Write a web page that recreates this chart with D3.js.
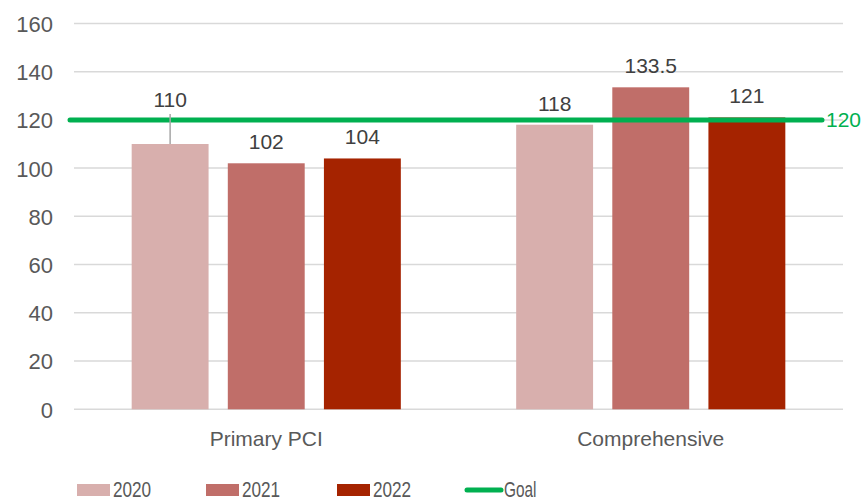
<!DOCTYPE html>
<html>
<head>
<meta charset="utf-8">
<script src="https://cdn.jsdelivr.net/npm/d3@7"></script>
<style>
  body { margin: 0; background: #fff; }
  svg { display: block; }
</style>
</head>
<body>
<svg id="chart" width="868" height="501"></svg>
<script>
// chart data
var categories = ["Primary PCI", "Comprehensive"];
var years = ["2020", "2021", "2022"];
var values2020 = [110, 118];
var values2021 = [102, 133.5];
var values2022 = [104, 121];
var goal = 120;
var yTicks = [0, 20, 40, 60, 80, 100, 120, 140, 160];
var colors = ["#d8afad", "#c06e69", "#a52300"];

var series = [values2020, values2021, values2022];

var svg = d3.select("#chart");

var plotLeft = 74, plotRight = 843, plotTop = 23.4, plotBottom = 409.3;
var font = "'Liberation Sans', Arial, sans-serif";

var y = d3.scaleLinear().domain([0, 160]).range([plotBottom, plotTop]);
var x0 = d3.scaleBand().domain(categories).range([plotLeft, plotRight]).padding(0);
var x1 = d3.scaleBand().domain(years).range([0, x0.bandwidth()])
  .paddingInner(0.2).paddingOuter(0.6);

// gridlines
svg.append("g")
  .selectAll("line")
  .data(yTicks)
  .enter().append("line")
    .attr("x1", plotLeft)
    .attr("x2", plotRight)
    .attr("y1", function(d) { return y(d); })
    .attr("y2", function(d) { return y(d); })
    .attr("stroke", "#d9d9d9")
    .attr("stroke-width", 1.5);

// y axis labels
var yAxis = d3.axisLeft(y).tickValues(yTicks).tickSize(0).tickPadding(0);
var ya = svg.append("g").attr("transform", "translate(53,0)").call(yAxis);
ya.select(".domain").remove();
ya.selectAll("text")
  .attr("font-family", font)
  .attr("font-size", 22)
  .attr("fill", "#595959")
  .attr("dy", "0.36em");

// bars
var groups = svg.append("g")
  .selectAll("g")
  .data(categories)
  .enter().append("g")
    .attr("transform", function(d) { return "translate(" + x0(d) + ",0)"; });

var bars = groups.selectAll("rect")
  .data(function(d, i) {
    return years.map(function(yr, j) { return { year: yr, value: series[j][i], cat: i, s: j }; });
  })
  .enter();

bars.append("rect")
  .attr("x", function(d) { return x1(d.year); })
  .attr("width", x1.bandwidth())
  .attr("y", function(d) { return y(d.value); })
  .attr("height", function(d) { return plotBottom - y(d.value); })
  .attr("fill", function(d) { return colors[d.s]; });

// goal line
svg.append("line")
  .attr("x1", 70)
  .attr("x2", 822)
  .attr("y1", y(goal))
  .attr("y2", y(goal))
  .attr("stroke", "#00b050")
  .attr("stroke-width", 5)
  .attr("stroke-linecap", "round");

svg.append("text")
  .attr("x", 826)
  .attr("y", y(goal))
  .attr("dy", "0.36em")
  .attr("font-family", font)
  .attr("font-size", 21)
  .attr("fill", "#00b050")
  .text(goal);

// leader line for 110
svg.append("line")
  .attr("x1", x0(categories[0]) + x1("2020") + x1.bandwidth() / 2)
  .attr("x2", x0(categories[0]) + x1("2020") + x1.bandwidth() / 2)
  .attr("y1", 114)
  .attr("y2", y(values2020[0]))
  .attr("stroke", "#a6a6a6")
  .attr("stroke-width", 1.5);

// data labels
bars.append("text")
  .attr("x", function(d) { return x1(d.year) + x1.bandwidth() / 2; })
  .attr("y", function(d) {
    // the 2020 Primary PCI label sits above the goal line with a leader
    if (d.cat === 0 && d.s === 0) return 107;
    return y(d.value) - 14;
  })
  .attr("text-anchor", "middle")
  .attr("font-family", font)
  .attr("font-size", 21)
  .attr("fill", "#404040")
  .text(function(d) { return d.value; });

// category labels
svg.append("g")
  .selectAll("text")
  .data(categories)
  .enter().append("text")
    .attr("x", function(d) { return x0(d) + x0.bandwidth() / 2; })
    .attr("y", 446)
    .attr("text-anchor", "middle")
    .attr("font-family", font)
    .attr("font-size", 21)
    .attr("fill", "#595959")
    .text(function(d) { return d; });

// legend
var legendX = [77, 206, 337];
var lg = svg.append("g");
years.forEach(function(yr, i) {
  lg.append("rect")
    .attr("x", legendX[i])
    .attr("y", 484)
    .attr("width", 33)
    .attr("height", 12)
    .attr("fill", colors[i]);
  lg.append("text")
    .attr("transform", "translate(" + (legendX[i] + 36) + ",497) scale(0.78,1)")
    .attr("font-family", font)
    .attr("font-size", 22)
    .attr("fill", "#595959")
    .text(yr);
});
lg.append("line")
  .attr("x1", 467)
  .attr("x2", 501)
  .attr("y1", 490)
  .attr("y2", 490)
  .attr("stroke", "#00b050")
  .attr("stroke-width", 5)
  .attr("stroke-linecap", "round");
lg.append("text")
  .attr("transform", "translate(504,497) scale(0.7,1)")
  .attr("font-family", font)
  .attr("font-size", 22)
  .attr("fill", "#595959")
  .text("Goal");
</script>
</body>
</html>
